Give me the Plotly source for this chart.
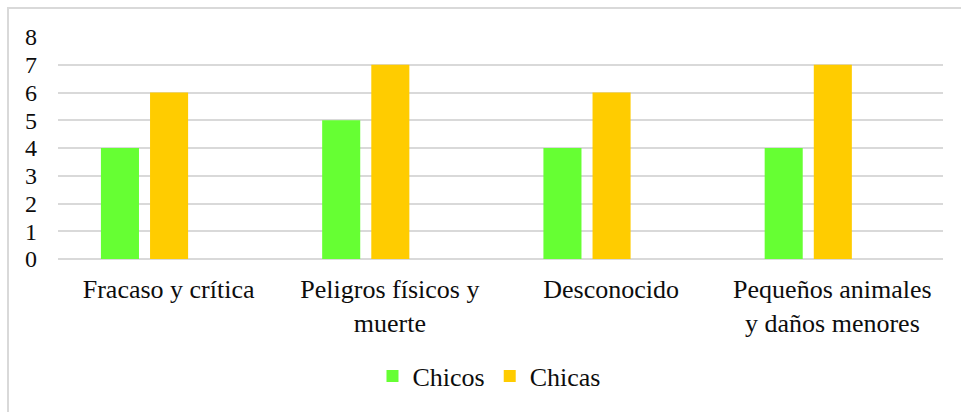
import plotly.graph_objects as go

categories = [
    "Fracaso y crítica",
    "Peligros físicos y<br>muerte",
    "Desconocido",
    "Pequeños animales<br>y daños menores",
]
chicos = [4, 5, 4, 4]
chicas = [6, 7, 6, 7]
y_ticks = [0, 1, 2, 3, 4, 5, 6, 7, 8]

FONT = "Times New Roman"
GRID = "#D9D9D9"

fig = go.Figure()
fig.add_trace(go.Bar(
    name="Chicos", x=categories, y=chicos,
    marker=dict(color="#66FF33", line=dict(width=0)),
    width=0.172, offset=-0.306,
))
fig.add_trace(go.Bar(
    name="Chicas", x=categories, y=chicas,
    marker=dict(color="#FFCC00", line=dict(width=0)),
    width=0.172, offset=-0.084,
))

# light frame around the chart area (runs off the right and bottom edges)
fig.add_shape(
    type="rect", xref="paper", yref="paper",
    x0=-0.0565, x1=1.05, y0=-0.8, y1=1.1306,
    line=dict(color=GRID, width=2), fillcolor="rgba(0,0,0,0)", layer="below",
)

fig.update_layout(
    width=961, height=412,
    margin=dict(l=58, r=18, t=37, b=153),
    paper_bgcolor="white", plot_bgcolor="white",
    font=dict(family=FONT, size=26, color="#0D0D0D"),
    barmode="overlay",
    showlegend=True,
    legend=dict(
        orientation="h", x=0.487, xanchor="center", y=-0.527, yanchor="middle",
        font=dict(family=FONT, size=26, color="#0D0D0D"),
        itemwidth=30, tracegroupgap=0,
    ),
    xaxis=dict(
        type="category", showgrid=False, zeroline=False,
        showline=False, ticks="", tickfont=dict(family=FONT, size=26),
        ticklabelstandoff=12,
    ),
    yaxis=dict(
        range=[0, 8], tickvals=y_ticks, showgrid=True, gridcolor=GRID,
        gridwidth=1.5, zeroline=True, zerolinecolor=GRID, zerolinewidth=2,
        showline=False, ticks="", tickfont=dict(family=FONT, size=24),
        ticklabelstandoff=20,
    ),
)

fig.write_html("out.html")
